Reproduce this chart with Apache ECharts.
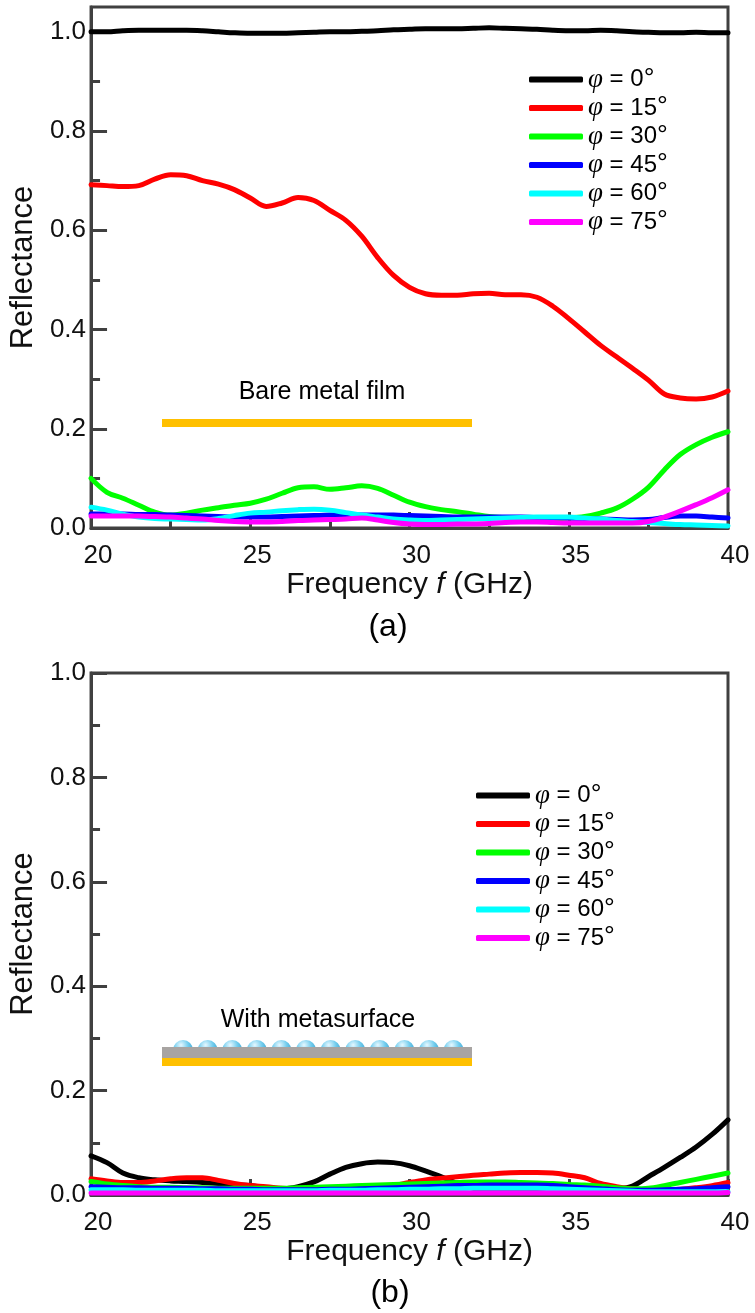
<!DOCTYPE html>
<html><head><meta charset="utf-8">
<script src="https://cdn.jsdelivr.net/npm/echarts@6/dist/echarts.min.js"></script>
<style>html,body{margin:0;padding:0;background:#fff}#c{width:755px;height:1313px}</style>
</head><body><div id="c"></div>
<script>
// ---- data ----
const freq = [20,20.5,21,21.5,22,22.5,23,23.5,24,24.5,25,25.5,26,26.5,27,27.5,28,28.5,29,29.5,30,30.5,31,31.5,32,32.5,33,33.5,34,34.5,35,35.5,36,36.5,37,37.5,38,38.5,39,39.5,40];

// panel (a): bare metal film
const aPhi0  = [1.000,1.000,1.002,1.003,1.003,1.003,1.003,1.002,1.000,0.998,0.997,0.997,0.997,0.998,0.999,1.000,1.000,1.001,1.002,1.004,1.005,1.006,1.006,1.006,1.007,1.008,1.007,1.006,1.005,1.003,1.002,1.002,1.003,1.002,1.000,0.999,0.998,0.998,0.999,0.998,0.998];
const aPhi15 = [0.692,0.690,0.688,0.690,0.703,0.712,0.710,0.700,0.693,0.682,0.665,0.648,0.655,0.666,0.660,0.640,0.620,0.588,0.545,0.509,0.485,0.472,0.469,0.469,0.472,0.473,0.470,0.470,0.465,0.447,0.422,0.395,0.368,0.345,0.322,0.298,0.270,0.262,0.260,0.264,0.276];
const aPhi30 = [0.100,0.072,0.060,0.046,0.032,0.026,0.030,0.036,0.041,0.046,0.050,0.058,0.070,0.081,0.083,0.078,0.081,0.085,0.080,0.066,0.052,0.043,0.037,0.033,0.028,0.023,0.021,0.020,0.019,0.019,0.020,0.023,0.030,0.040,0.058,0.082,0.117,0.148,0.168,0.183,0.194];
const aPhi45 = [0.028,0.028,0.028,0.027,0.027,0.026,0.025,0.024,0.023,0.022,0.022,0.022,0.023,0.024,0.025,0.026,0.026,0.026,0.026,0.026,0.025,0.024,0.023,0.022,0.022,0.022,0.022,0.022,0.021,0.021,0.020,0.019,0.018,0.017,0.016,0.017,0.021,0.024,0.024,0.022,0.020];
const aPhi60 = [0.042,0.036,0.028,0.022,0.019,0.018,0.017,0.016,0.019,0.025,0.030,0.032,0.035,0.037,0.038,0.036,0.031,0.026,0.022,0.018,0.016,0.015,0.016,0.017,0.018,0.019,0.020,0.021,0.022,0.022,0.022,0.020,0.018,0.015,0.013,0.011,0.009,0.007,0.006,0.005,0.004];
const aPhi75 = [0.024,0.024,0.024,0.024,0.023,0.022,0.020,0.018,0.015,0.013,0.012,0.012,0.013,0.015,0.016,0.017,0.018,0.020,0.016,0.011,0.008,0.007,0.007,0.008,0.008,0.009,0.011,0.012,0.012,0.011,0.010,0.010,0.010,0.010,0.010,0.013,0.022,0.034,0.047,0.061,0.077];

// panel (b): with metasurface
const bPhi0  = [0.075,0.062,0.042,0.033,0.029,0.027,0.026,0.024,0.022,0.020,0.018,0.014,0.012,0.016,0.025,0.040,0.053,0.060,0.063,0.062,0.056,0.046,0.035,0.022,0.013,0.008,0.006,0.005,0.005,0.006,0.007,0.008,0.009,0.011,0.017,0.035,0.053,0.072,0.092,0.116,0.144];
const bPhi15 = [0.031,0.027,0.024,0.024,0.027,0.031,0.033,0.033,0.028,0.022,0.018,0.016,0.013,0.012,0.011,0.010,0.011,0.012,0.014,0.018,0.024,0.029,0.032,0.035,0.038,0.040,0.042,0.043,0.043,0.042,0.038,0.033,0.022,0.016,0.012,0.010,0.010,0.011,0.014,0.018,0.024];
const bPhi30 = [0.026,0.021,0.018,0.016,0.015,0.015,0.014,0.014,0.013,0.013,0.013,0.013,0.013,0.014,0.015,0.016,0.017,0.018,0.019,0.020,0.021,0.022,0.023,0.024,0.025,0.025,0.025,0.024,0.023,0.022,0.020,0.019,0.017,0.014,0.012,0.013,0.018,0.024,0.030,0.036,0.042];
const bPhi45 = [0.016,0.015,0.014,0.014,0.013,0.013,0.013,0.012,0.012,0.011,0.011,0.010,0.010,0.010,0.010,0.011,0.011,0.012,0.013,0.014,0.015,0.016,0.017,0.018,0.018,0.019,0.019,0.019,0.019,0.018,0.016,0.014,0.012,0.010,0.009,0.009,0.010,0.011,0.012,0.014,0.016];
const bPhi60 = [0.010,0.010,0.010,0.009,0.009,0.009,0.009,0.009,0.008,0.008,0.008,0.008,0.008,0.008,0.008,0.009,0.009,0.009,0.010,0.010,0.011,0.011,0.012,0.012,0.013,0.013,0.013,0.013,0.013,0.012,0.011,0.010,0.009,0.008,0.007,0.006,0.006,0.006,0.006,0.006,0.006];
const bPhi75 = [0.004,0.004,0.004,0.004,0.004,0.004,0.004,0.004,0.004,0.004,0.004,0.004,0.004,0.004,0.004,0.004,0.004,0.004,0.004,0.004,0.004,0.004,0.004,0.004,0.004,0.004,0.004,0.004,0.004,0.004,0.004,0.004,0.004,0.004,0.004,0.004,0.004,0.004,0.004,0.004,0.005];

const seriesNames = ['φ = 0°','φ = 15°','φ = 30°','φ = 45°','φ = 60°','φ = 75°'];
const xTicks = [20,25,30,35,40];
const yMajorTicks = [0,0.2,0.4,0.6,0.8,1.0];
const yMinorTicks = [0.1,0.3,0.5,0.7,0.9];
const panelLabels = ['(a)','(b)'];
const annotA = 'Bare metal film';
const annotB = 'With metasurface';

// ---- styling ----
const COLORS = ['#000000','#ff0000','#00ff00','#0000ff','#00ffff','#ff00ff'];
const AX = '#404040';
const FONT = '"Liberation Sans", Arial, sans-serif';
const GRIDS = [{left:82, top:7, width:646, height:521},{left:82, top:673, width:646, height:522}];
const YMAX = [1.05, 1.0];

const chart = echarts.init(document.getElementById('c'), null, {renderer:'canvas'});

function xAxis(gi){
  return {type:'value', gridIndex:gi, min:xTicks[0], max:xTicks[xTicks.length-1], interval:5,
    axisLine:{show:true, onZero:false, lineStyle:{color:AX, width:3}},
    axisTick:{show:true, inside:true, length:16, lineStyle:{color:AX, width:3}},
    minorTick:{show:true, splitNumber:2, length:8, lineStyle:{color:AX, width:3}},
    splitLine:{show:false}, minorSplitLine:{show:false},
    axisLabel:{fontSize:26, color:'#111', fontFamily:FONT, margin:15, padding:[0,0,0,14]},
    name:'Frequency {i|f} (GHz)', nameLocation:'middle', nameGap:41,
    nameTextStyle:{fontSize:30, color:'#111', fontFamily:FONT, rich:{i:{fontSize:30, fontStyle:'italic', fontFamily:FONT, color:'#111'}}}
  };
}
function yAxisMain(gi){
  return {type:'value', gridIndex:gi, min:0, max:YMAX[gi],
    axisLine:{show:true, onZero:false, lineStyle:{color:AX, width:3}},
    axisTick:{show:true, inside:true, length:16, customValues:yMajorTicks, lineStyle:{color:AX, width:3}},
    axisLabel:{customValues:yMajorTicks, formatter:v=>v.toFixed(1), fontSize:26, color:'#111', fontFamily:FONT, margin:5},
    splitLine:{show:false},
    name:'Reflectance', nameLocation:'middle', nameGap:41,
    nameTextStyle:{fontSize:31, color:'#111', fontFamily:FONT}
  };
}
function yAxisMinor(gi){
  return {type:'value', gridIndex:gi, min:0, max:YMAX[gi], position:'left',
    axisLine:{show:false},
    axisTick:{show:true, inside:true, length:9, customValues:yMinorTicks, lineStyle:{color:AX, width:3}},
    axisLabel:{show:false}, splitLine:{show:false}
  };
}

const panelData = [[aPhi0,aPhi15,aPhi30,aPhi45,aPhi60,aPhi75],[bPhi0,bPhi15,bPhi30,bPhi45,bPhi60,bPhi75]];
const series = [];
panelData.forEach((arrs, gi) => {
  arrs.forEach((arr, k) => {
    series.push({type:'line', name:seriesNames[k], xAxisIndex:gi, yAxisIndex:gi*2,
      data:freq.map((f,i)=>[f, arr[i]]), smooth:0.35, showSymbol:false, symbol:'none',
      itemStyle:{color:COLORS[k]}, lineStyle:{color:COLORS[k], width:5, cap:'round', join:'round'},
      emphasis:{disabled:true}, animation:false, clip:true});
  });
});

function legend(left, top){
  return {orient:'vertical', left:left, top:top, itemWidth:54, itemHeight:6, itemGap:1.5, icon:'roundRect',
    data:seriesNames, selectedMode:false, itemStyle:{borderWidth:0},
    formatter: n => '{p|φ}' + n.slice(1, -1) + '{d|°}',
    textStyle:{fontSize:24, color:'#000', fontFamily:FONT, lineHeight:24,
      rich:{
        p:{fontSize:27, fontStyle:'italic', fontFamily:'"Liberation Serif", "Times New Roman", serif', lineHeight:24, color:'#000'},
        d:{fontSize:27, lineHeight:24, color:'#000', fontFamily:FONT}
      }}
  };
}

// decorative annotations
const graphics = [];
graphics.push({type:'text', x:322, y:392, style:{text:annotA, fontSize:25, fontFamily:FONT, fill:'#000', align:'center', verticalAlign:'middle'}, z:10});
graphics.push({type:'rect', shape:{x:162, y:419, width:310, height:8}, style:{fill:'#FFC000'}, z:10});
graphics.push({type:'text', x:318, y:1020, style:{text:annotB, fontSize:25, fontFamily:FONT, fill:'#000', align:'center', verticalAlign:'middle'}, z:10});
for (let i=0;i<12;i++){
  graphics.push({type:'circle', shape:{cx:183+i*24.6, cy:1050, r:10},
    style:{fill:new echarts.graphic.RadialGradient(0.4,0.25,0.8,[{offset:0,color:'#e6f8ff'},{offset:0.45,color:'#72cdee'},{offset:1,color:'#2f95c4'}])}, z:10});
}
graphics.push({type:'rect', shape:{x:162, y:1047, width:310, height:11}, style:{fill:'#A8A4A2'}, z:11});
graphics.push({type:'rect', shape:{x:162, y:1058, width:310, height:8}, style:{fill:'#FFC000'}, z:11});
graphics.push({type:'text', x:388, y:627, style:{text:panelLabels[0], fontSize:32, fontFamily:FONT, fill:'#000', align:'center', verticalAlign:'middle'}, z:10});
graphics.push({type:'text', x:390, y:1293, style:{text:panelLabels[1], fontSize:32, fontFamily:FONT, fill:'#000', align:'center', verticalAlign:'middle'}, z:10});

chart.setOption({
  animation:false,
  backgroundColor:'#ffffff',
  grid: GRIDS.map(g => Object.assign({show:true, borderColor:AX, borderWidth:3, backgroundColor:'transparent', containLabel:false}, g)),
  xAxis:[xAxis(0), xAxis(1)],
  yAxis:[yAxisMain(0), yAxisMinor(0), yAxisMain(1), yAxisMinor(1)],
  legend:[legend(524, 61), legend(471, 777)],
  series: series,
  graphic: graphics
});
</script></body></html>
